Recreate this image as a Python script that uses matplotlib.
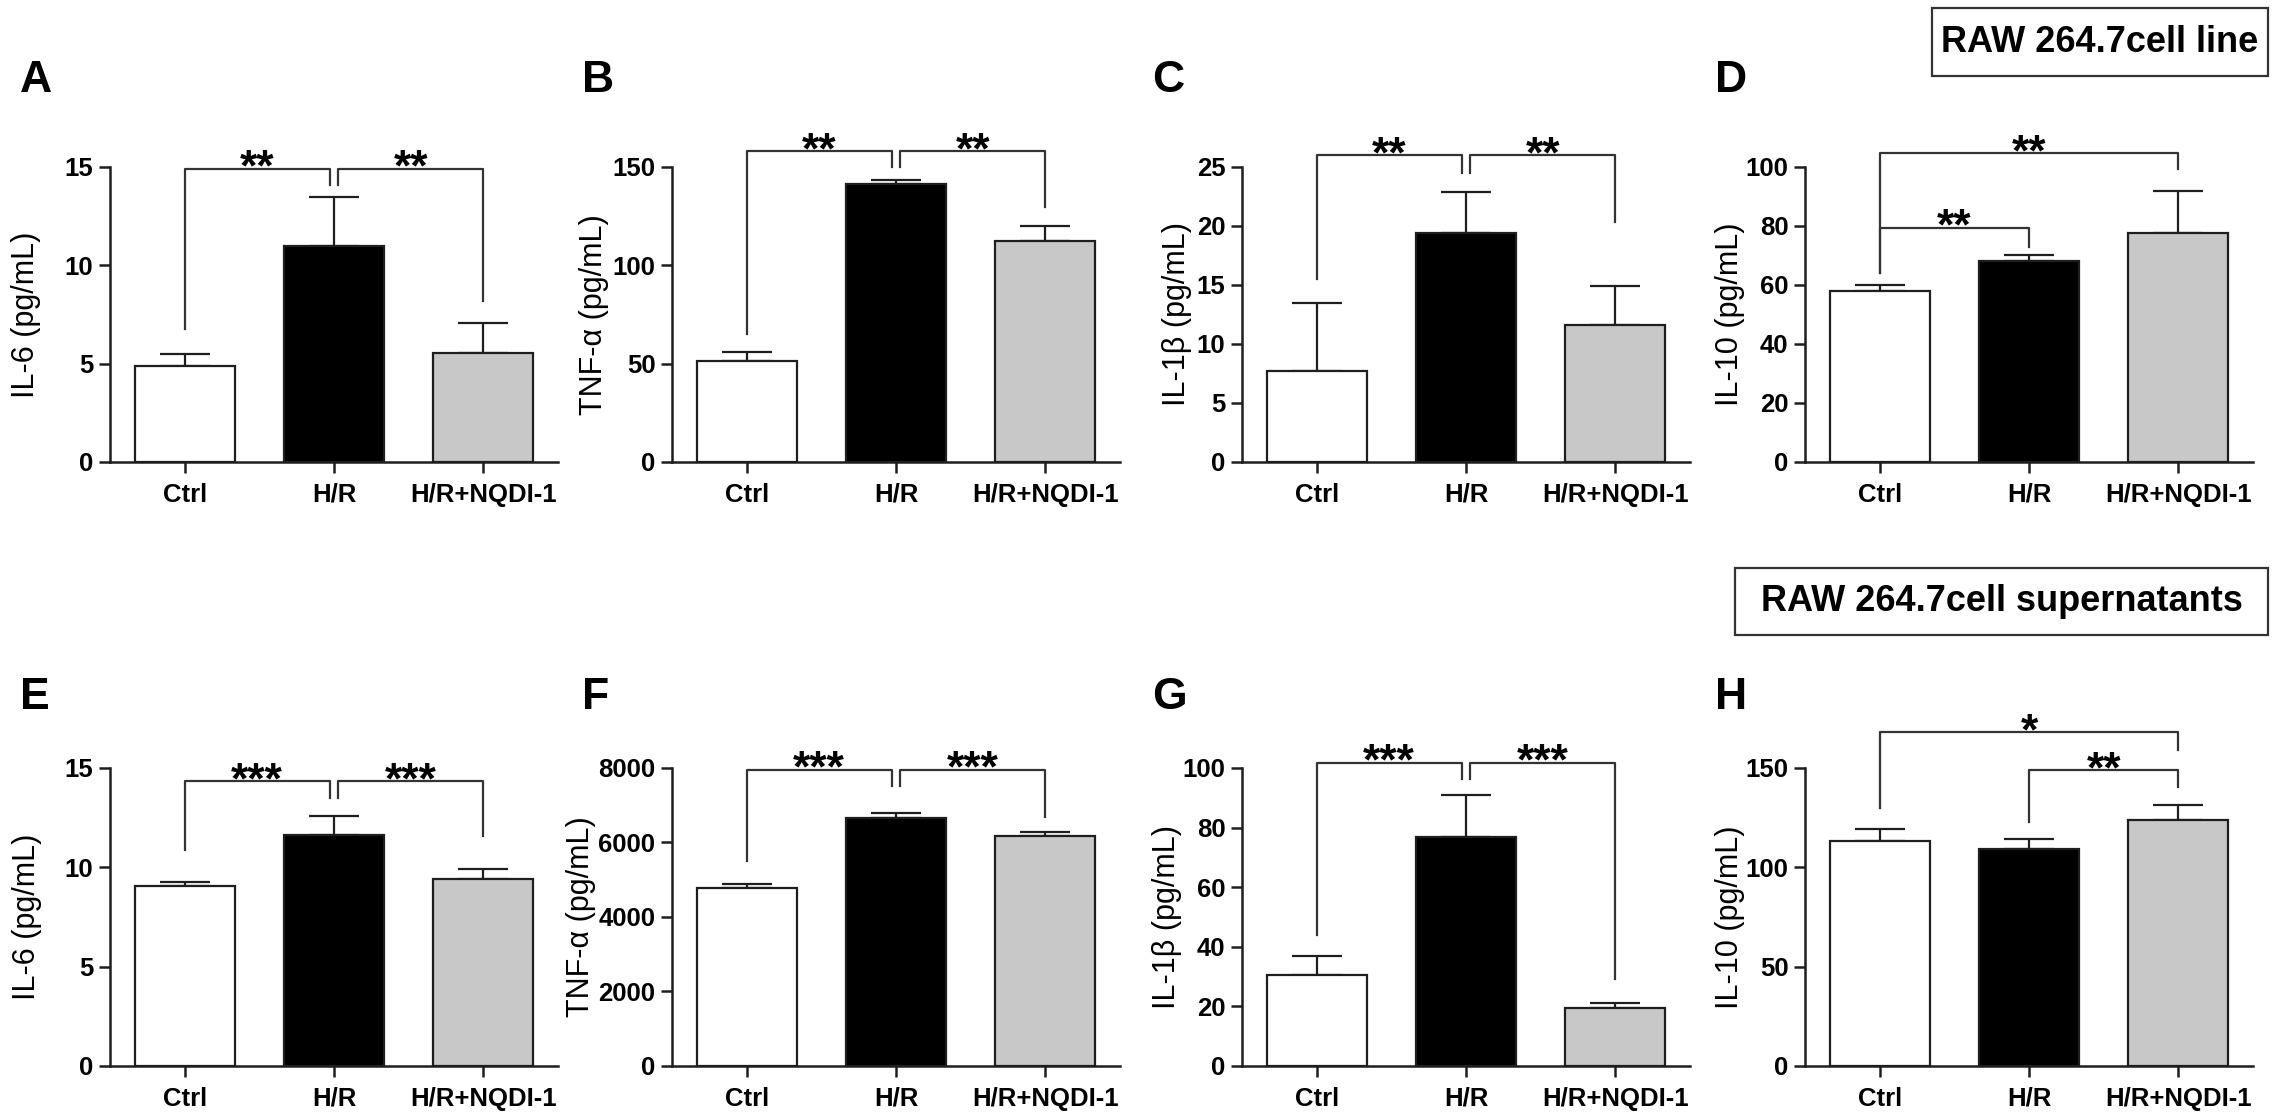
import numpy as np
import matplotlib
matplotlib.use('Agg')
import matplotlib.pyplot as plt
from matplotlib.patches import Rectangle

plt.rcParams['font.family'] = ['Liberation Sans', 'DejaVu Sans']
plt.rcParams['font.weight'] = 'bold'

# groups and bar fills
groups = ['Ctrl', 'H/R', 'H/R+NQDI-1']
bar_colors = ['white', 'black', '#c8c8c8']

# RAW 264.7 cell line (mean, SEM)
il6_line = [4.9, 11.0, 5.55]
il6_line_err = [0.6, 2.45, 1.5]
tnf_line = [51.5, 141.3, 112.4]
tnf_line_err = [4.5, 2.1, 7.6]
il1b_line = [7.7, 19.4, 11.6]
il1b_line_err = [5.8, 3.5, 3.3]
il10_line = [58.0, 68.0, 77.7]
il10_line_err = [2.0, 2.0, 14.3]

# RAW 264.7 cell supernatants
il6_sup = [9.05, 11.65, 9.4]
il6_sup_err = [0.2, 0.95, 0.5]
tnf_sup = [4790, 6660, 6175]
tnf_sup_err = [90, 140, 105]
il1b_sup = [30.5, 76.8, 19.5]
il1b_sup_err = [6.4, 14.2, 1.8]
il10_sup = [113.2, 109.0, 123.6]
il10_sup_err = [5.9, 5.2, 7.9]

# y ticks of each panel
ticks_A = [0, 5, 10, 15]
ticks_B = [0, 50, 100, 150]
ticks_C = [0, 5, 10, 15, 20, 25]
ticks_D = [0, 20, 40, 60, 80, 100]
ticks_E = [0, 5, 10, 15]
ticks_F = [0, 2000, 4000, 6000, 8000]
ticks_G = [0, 20, 40, 60, 80, 100]
ticks_H = [0, 50, 100, 150]

# significance brackets: (x left, x right, top, left leg end, right leg end, stars)
g = 0.03
sig_A = [(0, 1 - g, 14.9, 6.75, 14.1, '**'), (1 + g, 2, 14.9, 14.1, 8.2, '**')]
sig_B = [(0, 1 - g, 158, 65, 150, '**'), (1 + g, 2, 158, 150, 129.6, '**')]
sig_C = [(0, 1 - g, 26, 15.5, 24.5, '**'), (1 + g, 2, 26, 24.5, 20.3, '**')]
sig_D = [(0, 1, 79.3, 64, 73, '**'), (0, 2, 104.6, 64, 99.3, '**')]
sig_E = [(0, 1 - g, 14.33, 10.85, 13.5, '***'), (1 + g, 2, 14.33, 13.5, 11.56, '***')]
sig_F = [(0, 1 - g, 7954, 5493, 7517, '***'), (1 + g, 2, 7954, 7517, 6684, '***')]
sig_G = [(0, 1 - g, 101.7, 44.1, 96.2, '***'), (1 + g, 2, 101.7, 96.2, 29.1, '***')]
sig_H = [(0, 2, 168, 129.9, 159, '*'), (1, 2, 148.8, 122.8, 140.5, '**')]

panels = [
    ('A', 'IL-6 (pg/mL)', il6_line, il6_line_err, ticks_A, sig_A, -0.155),
    ('B', 'TNF-α (pg/mL)', tnf_line, tnf_line_err, ticks_B, sig_B, -0.140),
    ('C', 'IL-1β (pg/mL)', il1b_line, il1b_line_err, ticks_C, sig_C, -0.112),
    ('D', 'IL-10 (pg/mL)', il10_line, il10_line_err, ticks_D, sig_D, -0.135),
    ('E', 'IL-6 (pg/mL)', il6_sup, il6_sup_err, ticks_E, sig_E, -0.152),
    ('F', 'TNF-α (pg/mL)', tnf_sup, tnf_sup_err, ticks_F, sig_F, -0.170),
    ('G', 'IL-1β (pg/mL)', il1b_sup, il1b_sup_err, ticks_G, sig_G, -0.135),
    ('H', 'IL-10 (pg/mL)', il10_sup, il10_sup_err, ticks_H, sig_H, -0.135),
]

W, H = 2272, 1114
fig = plt.figure(figsize=(W / 100, H / 100), dpi=100)

col_px = [110, 672, 1242, 1805]
row_bottom = [0.5853, 0.0431]
row_height = [0.2648, 0.2675]
letter_y = [0.928, 0.374]
ax_w = 448 / W
line_c = '#1e1e1e'

x = np.arange(3)
for i, (letter, ylab, mean, err, ticks, sig, labx) in enumerate(panels):
    r, c = divmod(i, 4)
    ax = fig.add_axes([col_px[c] / W, row_bottom[r], ax_w, row_height[r]])
    ax.bar(x, mean, width=0.67, color=bar_colors, edgecolor=line_c,
           linewidth=1.6, zorder=3)
    ax.errorbar(x, mean, yerr=[np.zeros(3), err], fmt='none', ecolor=line_c,
                elinewidth=1.6, capsize=18, capthick=1.6, zorder=2)
    ax.set_xlim(-0.5, 2.5)
    ax.set_ylim(0, ticks[-1])
    ax.set_yticks(ticks)
    ax.set_xticks(x, groups)
    for s in ['top', 'right']:
        ax.spines[s].set_visible(False)
    for s in ['left', 'bottom']:
        ax.spines[s].set_linewidth(1.8)
        ax.spines[s].set_color(line_c)
    ax.tick_params(axis='both', direction='out', length=8, width=1.8,
                   color=line_c, labelsize=18.5)
    ax.tick_params(axis='x', pad=7)
    ax.tick_params(axis='y', pad=4)
    ax.set_ylabel(ylab, fontsize=22)
    ax.yaxis.set_label_coords(labx, 0.5)

    for (x1, x2, top, l1, l2, stars) in sig:
        ax.plot([x1, x1, x2, x2], [l1, top, top, l2], color='#333333', lw=1.6,
                clip_on=False, zorder=4)
        ax.annotate(stars, xy=((x1 + x2) / 2, top), xytext=(0, -8.5),
                    textcoords='offset points', ha='center', va='baseline',
                    fontsize=32, annotation_clip=False)

    fig.text((col_px[c] - 90) / W, letter_y[r], letter, fontsize=32,
             fontweight='bold', va='center', ha='left')

# framed row titles
titles = [('RAW 264.7cell line', 1932, 8, 2268, 76),
          ('RAW 264.7cell supernatants', 1735, 568, 2268, 635)]
for txt, x0, y0, x1, y1 in titles:
    fig.add_artist(Rectangle((x0 / W, 1 - y1 / H), (x1 - x0) / W, (y1 - y0) / H,
                             transform=fig.transFigure, fc='white',
                             ec='#333333', lw=1.6))
    fig.text((x0 + x1) / 2 / W, 1 - (y0 + y1) / 2 / H, txt, ha='center',
             va='center', fontsize=26)

fig.savefig('out.png', dpi=100)
